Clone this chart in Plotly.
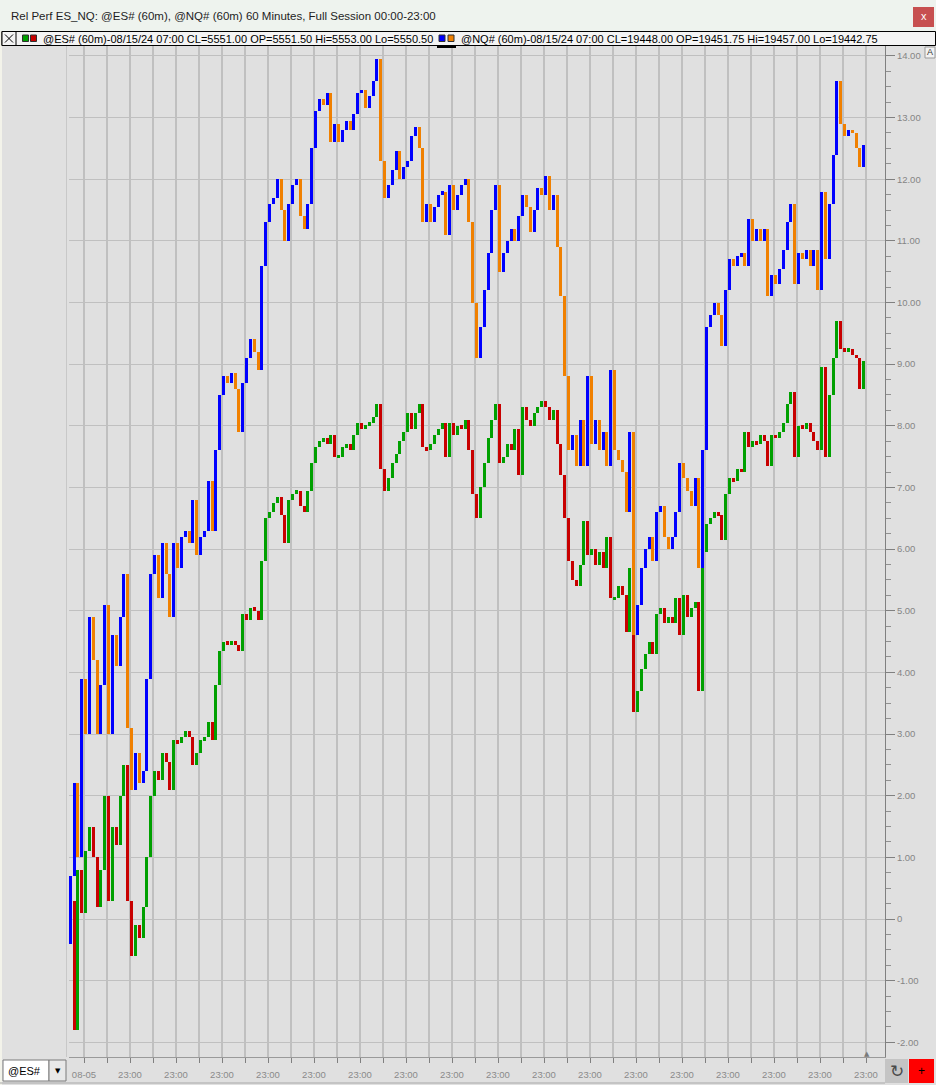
import plotly.graph_objects as go

W, H = 936, 1085

# ---------------- data ----------------
bars_per_session = 6          # bars drawn per vertical grid interval
first_bar_offset = -0.6       # position of first bar, in grid intervals

nq_open0 = -0.4
nq_close = [
    0.7, 2.2, 1.0, 3.9, 3.0, 4.9, 4.2, 3.0, 3.8, 5.1, 3.0, 4.6, 4.1, 4.9, 5.6, 3.1, 2.1, 2.7, 2.2, 2.4,
    3.9, 5.6, 5.9, 5.2, 6.1, 5.6, 4.9, 6.1, 5.7, 6.2, 6.3, 6.1, 6.8, 5.9, 6.2, 6.3, 7.1, 6.3, 7.6, 8.5,
    8.8, 8.7, 8.85, 8.6, 7.9, 8.7, 9.1, 9.4, 9.2, 8.9, 10.6, 11.3, 11.6, 11.7, 12.0, 11.5, 11.0, 11.6, 11.9, 12.0,
    11.4, 11.2, 11.6, 12.5, 13.1, 13.3, 13.2, 13.4, 12.6, 12.9, 12.6,
    12.8, 12.95, 12.8, 13.05, 13.4, 13.45, 13.15, 13.35, 13.6, 13.95, 12.3, 11.7, 11.9, 12.15, 12.45, 12.0, 12.2, 12.3, 12.7,
    12.85, 12.5, 11.3, 11.6, 11.3, 11.55, 11.75, 11.8, 11.1, 11.9, 11.5, 11.75, 11.9, 12.0, 11.3, 10.0, 9.1, 9.6, 10.2, 10.8,
    11.5, 11.9, 10.5, 10.8, 11.0, 11.2, 11.0, 11.4, 11.75, 11.55, 11.15, 11.5, 11.85, 11.75, 12.05, 11.5, 11.75, 10.9, 10.1, 8.8,
    7.6, 7.85, 7.35, 8.1, 7.35, 8.8, 7.7, 8.1, 7.6, 7.9, 7.35, 8.9,
    7.6, 7.45, 7.25, 6.6, 7.9, 4.6, 5.1, 5.7, 6.0, 6.2, 5.8, 6.6, 6.7, 6.2, 6.0, 6.2, 6.6, 7.4, 7.15, 6.95,
    6.7, 7.15, 5.7, 7.6, 9.6, 9.8, 10.0, 9.8, 9.3, 10.2, 10.7, 10.6, 10.75, 10.8, 10.6, 11.35, 11.0, 11.2, 11.0, 11.2,
    10.1, 10.45, 10.3, 10.55, 10.85, 11.3, 11.6, 10.3, 10.8, 10.7, 10.85, 10.6, 10.85, 10.2, 11.8, 10.7, 11.6, 12.4, 13.6, 12.9,
    12.7, 12.8, 12.75, 12.5, 12.2, 12.55,
]

es_open0 = -0.3
es_close = [
    0.3, -1.8, 0.8, 0.1, 1.1, 1.5, 1.0, 0.2, 0.8, 2.0, 0.3, 1.5, 1.2, 2.0, 2.5, 0.3, -0.6, -0.1, -0.3, 0.2,
    1.0, 2.0, 2.4, 2.25, 2.7, 2.55, 2.1, 2.9, 2.85, 2.95, 3.05, 2.95, 2.5, 2.7, 2.9, 2.95, 3.2, 2.9, 3.8, 4.35,
    4.5, 4.45, 4.5, 4.45, 4.35, 4.95, 4.85, 5.05, 5.0, 4.85, 5.8, 6.5, 6.6, 6.75, 6.85, 6.55, 6.1, 6.8, 6.9, 6.95,
    6.7, 6.6, 6.95, 7.4, 7.65, 7.75, 7.8, 7.7, 7.85, 7.5, 7.5,
    7.65, 7.7, 7.6, 7.85, 8.05, 7.95, 8.0, 8.05, 8.15, 8.35, 7.3, 6.95, 7.15, 7.4, 7.55, 7.75, 7.9, 8.2, 7.95,
    8.2, 8.35, 7.65, 7.6, 7.7, 7.85, 7.95, 8.05, 7.5, 8.05, 7.85, 8.0, 7.95, 8.1, 7.6, 6.9, 6.5, 7.0, 7.4, 7.8,
    8.1, 8.35, 7.4, 7.5, 7.7, 7.6, 7.95, 7.2, 8.3, 8.1, 8.0, 8.2, 8.3, 8.4, 8.3, 8.1, 8.25, 7.7, 7.2, 6.5,
    5.8, 5.5, 5.4, 5.75, 6.45, 5.9, 6.0, 5.75, 5.95, 5.7, 6.2, 5.2,
    5.2, 5.4, 5.25, 4.65, 5.7, 3.35, 3.7, 4.05, 4.3, 4.5, 4.3, 4.95, 5.05, 4.8, 4.9, 4.8, 5.2, 4.6, 5.25, 4.9,
    5.05, 5.15, 3.7, 5.95, 6.4, 6.5, 6.6, 6.55, 6.15, 6.9, 7.15, 7.1, 7.3, 7.25, 7.9, 7.65, 7.75, 7.7, 7.85, 7.75,
    7.35, 7.85, 7.8, 7.9, 8.05, 8.35, 8.55, 7.5, 8.0, 7.95, 8.05, 7.9, 7.75, 7.6, 8.95, 7.5, 8.5, 9.1, 9.7, 9.25,
    9.2, 9.25, 9.15, 9.1, 8.6, 9.05,
]

x_tick_labels = ["08-05"] + ["23:00"] * 17      # one label every second grid line
n_grid_lines = 35
y_tick_vals = list(range(-2, 15))
y_tick_text = ["0" if v == 0 else f"{v:.2f}" for v in y_tick_vals]
y_minor_vals = [v / 4 for v in range(-8, 57)]

title_text = "Rel Perf ES_NQ: @ES# (60m), @NQ# (60m) 60 Minutes, Full Session 00:00-23:00"
es_info = "@ES# (60m)-08/15/24 07:00 CL=5551.00 OP=5551.50 Hi=5553.00 Lo=5550.50"
nq_info = "@NQ# (60m)-08/15/24 07:00 CL=19448.00 OP=19451.75 Hi=19457.00 Lo=19442.75"

# ---------------- styling ----------------
NQ_UP, NQ_DN = "#0000ff", "#f08000"
ES_UP, ES_DN = "#00a000", "#c80000"
BG = "#e0e0e0"
GRID = "#c0c0c0"
FONT = "Liberation Sans"


def px_x(p):
    return p / W


def px_y(p):
    return 1 - p / H


def bar_trace(open0, closes, up, dn, name, min_h=0.06):
    opens = [open0] + closes[:-1]
    xs, bases, hs, cols = [], [], [], []
    for i, (o, c) in enumerate(zip(opens, closes)):
        lo, hi = min(o, c), max(o, c)
        h = hi - lo
        if h < min_h:
            lo -= (min_h - h) / 2
            h = min_h
        xs.append(first_bar_offset + i / bars_per_session)
        bases.append(lo)
        hs.append(h)
        cols.append(up if c >= o else dn)
    return go.Bar(x=xs, y=hs, base=bases, marker=dict(color=cols, line=dict(width=0)),
                  width=0.78 / bars_per_session, name=name, hoverinfo="skip")


fig = go.Figure()
fig.add_trace(bar_trace(es_open0, es_close, ES_UP, ES_DN, "@ES#"))
fig.add_trace(bar_trace(nq_open0, nq_close, NQ_UP, NQ_DN, "@NQ#"))

x_tickvals = list(range(n_grid_lines))
x_ticktext = [x_tick_labels[k // 2] if k % 2 == 0 else "" for k in x_tickvals]

# grid interval = 23 px, first grid line at x=84 px; y: 61.65 px per unit, 0 at 919 px
fig.update_layout(
    width=W, height=H,
    margin=dict(l=0, r=0, t=0, b=0),
    paper_bgcolor=BG, plot_bgcolor=BG,
    showlegend=False, barmode="overlay", bargap=0,
    font=dict(family=FONT),
    xaxis=dict(
        domain=[px_x(69), px_x(885)],
        range=[(69 - 84) / 23, (885 - 84) / 23],
        tickmode="array", tickvals=x_tickvals, ticktext=x_ticktext,
        showgrid=True, gridcolor=GRID, gridwidth=2.2,
        ticks="outside", ticklen=5, tickcolor="#808080", tickwidth=1,
        tickfont=dict(size=9.5, color="#8a8a8a", family=FONT),
        ticklabelstandoff=4,
        showline=True, linecolor="#9a9a9a", linewidth=1,
        zeroline=False, fixedrange=True,
    ),
    yaxis=dict(
        domain=[px_y(1057), px_y(46)],
        range=[(919 - 1057) / 61.65, (919 - 46) / 61.65],
        side="right",
        tickmode="array", tickvals=y_tick_vals, ticktext=y_tick_text,
        showgrid=True, gridcolor=GRID, gridwidth=1,
        ticks="outside", ticklen=9, tickcolor="#808080", tickwidth=1,
        tickfont=dict(size=9.5, color="#858585", family=FONT),
        minor=dict(tickmode="array", tickvals=y_minor_vals, ticks="outside", ticklen=5,
                   tickcolor="#909090", showgrid=False),
        showline=True, linecolor="#808080", linewidth=1,
        zeroline=False, fixedrange=True,
    ),
)

shapes = []
ann = []


def rect(x0, y0, x1, y1, fill, line=None, lw=1, layer="above"):
    shapes.append(dict(type="rect", xref="paper", yref="paper",
                       x0=px_x(x0), x1=px_x(x1), y0=px_y(y1), y1=px_y(y0),
                       fillcolor=fill, layer=layer,
                       line=dict(color=line or fill, width=lw if line else 0)))


def hline(x0, x1, y, color, lw=1):
    shapes.append(dict(type="line", xref="paper", yref="paper",
                       x0=px_x(x0), x1=px_x(x1), y0=px_y(y), y1=px_y(y),
                       line=dict(color=color, width=lw)))


def vline(x, y0, y1, color, lw=1):
    shapes.append(dict(type="line", xref="paper", yref="paper",
                       x0=px_x(x), x1=px_x(x), y0=px_y(y0), y1=px_y(y1),
                       line=dict(color=color, width=lw)))


def text(x, y, s, size, color="#000000", anchor="left", family=FONT):
    ann.append(dict(x=px_x(x), y=px_y(y), xref="paper", yref="paper", text=s,
                    showarrow=False, xanchor=anchor, yanchor="middle",
                    font=dict(size=size, color=color, family=family)))


# left window edge and thin boundary line of the data area
rect(0, 31, 2, 1085, "#f3f3ea")
vline(66.5, 46, 1057, "#c8c8c8", 1)

# title bar
rect(0, 0, 936, 31, "#eef3ee")
text(9, 16, title_text, 11.5, "#1e1e1e")
rect(913, 7, 934, 27, "#c75050")
text(923.5, 16.5, "x", 11, "#ffffff", anchor="center")

# legend / data bar
rect(2, 31.5, 935.5, 45.5, "#f4f4f4", line="#000000", lw=1)
rect(2, 31.5, 16, 45.5, "#f4f4f4", line="#000000", lw=1)
shapes.append(dict(type="line", xref="paper", yref="paper", x0=px_x(5), x1=px_x(13),
                   y0=px_y(34.5), y1=px_y(42.5), line=dict(color="#000000", width=1)))
shapes.append(dict(type="line", xref="paper", yref="paper", x0=px_x(5), x1=px_x(13),
                   y0=px_y(42.5), y1=px_y(34.5), line=dict(color="#000000", width=1)))
rect(22.5, 35, 28.5, 41.5, ES_UP, line="#303030")
rect(30.5, 35, 36.5, 41.5, ES_DN, line="#303030")
text(41, 38.5, es_info, 11)
rect(439, 35, 445, 41.5, NQ_UP, line="#303030")
rect(448, 35, 454, 41.5, NQ_DN, line="#303030")
rect(437, 45, 456, 48, "#000000")
text(459, 38.5, nq_info, 11)

# "A" button on the price axis
rect(925, 47, 935, 58, "#f2f2f2", line="#9a9a9a")
text(930, 52.5, "A", 9, "#333333", anchor="center")

# bottom bar
hline(0, 885, 1083, "#a8a8a8", 1)
rect(3, 1060, 49, 1081, "#ffffff", line="#7a7a7a")
text(6, 1070.5, "@ES#", 11, "#000000")
rect(49, 1060, 66, 1081, "#e8e8e8", line="#7a7a7a")
text(57.5, 1071, "▼", 7, "#000000", anchor="center", family="DejaVu Sans")
text(866.5, 1053.5, "▲", 7, "#7a7a7a", anchor="center", family="DejaVu Sans")
rect(885, 1059, 908, 1083, "#c4c4c4")
text(896.5, 1071, "↻", 17, "#4a4a4a", anchor="center", family="DejaVu Sans")
rect(909, 1059, 934, 1083, "#ff0000")
text(921.5, 1071, "+", 12, "#000000", anchor="center")

fig.update_layout(shapes=shapes, annotations=ann)
fig.write_html(
    "out.html",
    config={"displayModeBar": False},
    post_script="document.body.style.margin='0';document.body.style.padding='0';"
                "document.documentElement.style.margin='0';",
)
